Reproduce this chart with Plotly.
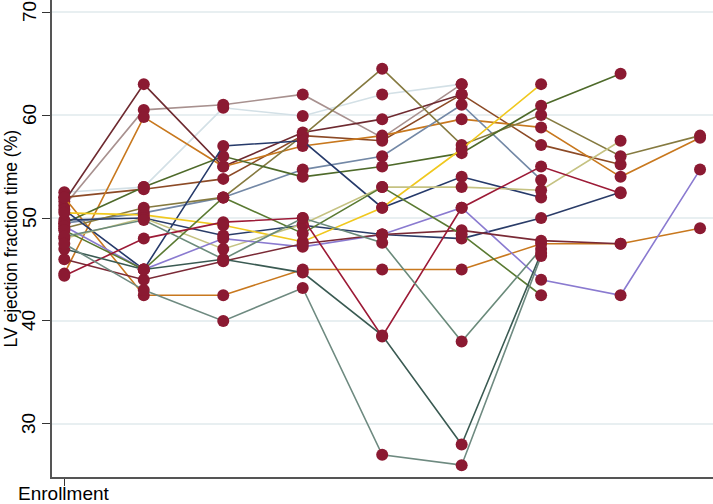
import plotly.graph_objects as go

# visit index 0..8, only the first one is labelled
visits = [0, 1, 2, 3, 4, 5, 6, 7, 8]
tick_vals = [0]
tick_text = ["Enrollment"]
y_ticks = [30, 40, 50, 60, 70]

# LV ejection fraction per patient, None = no visit
pt_maroon = [51.6, 63.0, 55.0, 58.3, 59.6, 62.0, None, None, None]
pt_brown = [52.0, 52.8, 53.8, 58.0, 57.5, 62.0, 57.1, 55.2, None]
pt_mauve = [51.2, 60.5, 61.0, 62.0, 57.8, 63.0, None, None, None]
pt_lightblue = [52.5, 53.0, 60.7, 59.9, 62.0, 63.0, None, None, None]
pt_orange = [44.6, 59.8, 55.0, 57.0, 58.0, 59.6, 58.8, 54.0, 57.8]
pt_orange2 = [52.0, 42.5, 42.5, 45.0, 45.0, 45.0, 47.5, 47.5, 49.0]
pt_steel = [49.5, 50.5, 52.0, 54.7, 56.0, 61.0, 53.7, None, None]
pt_olive = [49.0, 51.0, 52.0, 58.0, 64.5, 57.1, 60.0, 56.0, 58.0]
pt_darkgreen = [49.5, 53.0, 56.0, 54.0, 55.0, 56.3, 60.9, 64.0, None]
pt_navy = [50.8, 45.0, 57.0, 57.5, 51.0, 54.0, 52.0, None, None]
pt_navy2 = [49.8, 50.0, 48.3, 49.3, 48.4, 48.0, 50.0, 52.5, None]
pt_yellow = [50.5, 50.3, 49.3, 47.7, 51.0, 56.7, 63.0, None, None]
pt_khaki = [48.0, 50.0, 47.0, 49.4, 53.0, 53.0, 52.7, 57.5, None]
pt_purple = [49.2, 45.0, 48.0, 47.2, 48.4, 51.0, 44.0, 42.5, 54.7]
pt_maroon2 = [46.0, 44.0, 45.8, 47.5, 48.4, 48.8, 47.8, 47.5, None]
pt_green2 = [48.8, 45.0, 52.0, 48.5, 53.0, 48.4, 42.5, None, None]
pt_crimson = [44.4, 48.0, 49.6, 50.0, 38.5, 51.0, 55.0, 52.4, None]
pt_graygreen = [48.2, 49.8, 46.0, 50.0, 47.6, 38.0, 47.0, None, None]
pt_slate = [47.0, 45.0, 46.0, 44.7, 38.6, 28.0, 46.6, None, None]
pt_graygreen2 = [47.5, 43.0, 40.0, 43.2, 27.0, 26.0, 46.3, None, None]

patients = [
    (pt_lightblue, "#d3e0e6"),
    (pt_mauve, "#a8918f"),
    (pt_maroon, "#6e2a30"),
    (pt_brown, "#8c4a26"),
    (pt_orange, "#c8781e"),
    (pt_orange2, "#c8781e"),
    (pt_steel, "#7388a6"),
    (pt_olive, "#857a40"),
    (pt_darkgreen, "#4e6a2a"),
    (pt_navy, "#263a6a"),
    (pt_navy2, "#2a3c68"),
    (pt_yellow, "#f0c81e"),
    (pt_khaki, "#c5c282"),
    (pt_purple, "#8a7ad0"),
    (pt_maroon2, "#7a2a36"),
    (pt_green2, "#5a7a32"),
    (pt_crimson, "#9c1a36"),
    (pt_graygreen, "#6a8a7a"),
    (pt_slate, "#3a5a52"),
    (pt_graygreen2, "#6e8a80"),
]

fig = go.Figure()
for vals, col in patients:
    fig.add_trace(go.Scatter(x=visits, y=vals, mode="lines+markers",
                             line=dict(color=col, width=1.6),
                             marker=dict(color="#8b1a32", size=12),
                             connectgaps=False, showlegend=False))

# rotated y tick labels, Stata style
for v in y_ticks:
    fig.add_annotation(x=0, xref="paper", y=v, yref="y", text=str(v),
                       textangle=-90, showarrow=False, xanchor="center",
                       yanchor="middle", xshift=-23,
                       font=dict(size=19, color="black"))
fig.add_annotation(x=0, xref="paper", y=0.5, yref="paper",
                   text="LV ejection fraction time (%)", textangle=-90,
                   showarrow=False, xanchor="center", yanchor="middle",
                   xshift=-42, font=dict(size=17.5, color="black"))
# x tick label placed by hand so it is not pushed off the page
for xv, lab in zip(tick_vals, tick_text):
    fig.add_annotation(x=xv, xref="x", y=0, yref="paper", text=lab,
                       showarrow=False, xanchor="center", yanchor="top",
                       yshift=-5, borderpad=0,
                       font=dict(size=19, color="black"))

fig.update_layout(
    width=713, height=504,
    margin=dict(l=52, r=0, t=0, b=27),
    paper_bgcolor="white", plot_bgcolor="white",
    font=dict(family="Liberation Sans, Arial", size=19, color="black"),
)
fig.update_xaxes(range=[-0.155, 8.163], tickvals=tick_vals, showticklabels=False,
                 ticks="outside", ticklen=7, tickcolor="#333", automargin=False,
                 showgrid=False, zeroline=False, showline=True,
                 linecolor="#555", linewidth=2)
fig.update_yaxes(range=[24.85, 71.17], tickvals=y_ticks, showticklabels=False,
                 ticks="outside", ticklen=8, tickcolor="#333", automargin=False,
                 showgrid=True, gridcolor="#e8eff1", gridwidth=1.5,
                 zeroline=False, showline=True, linecolor="#555", linewidth=2)

# page body has a default 8px margin, drop it so the figure sits at 0,0
fig.write_html("out.html", config={"displayModeBar": False},
               post_script="document.body.style.margin='0';")
